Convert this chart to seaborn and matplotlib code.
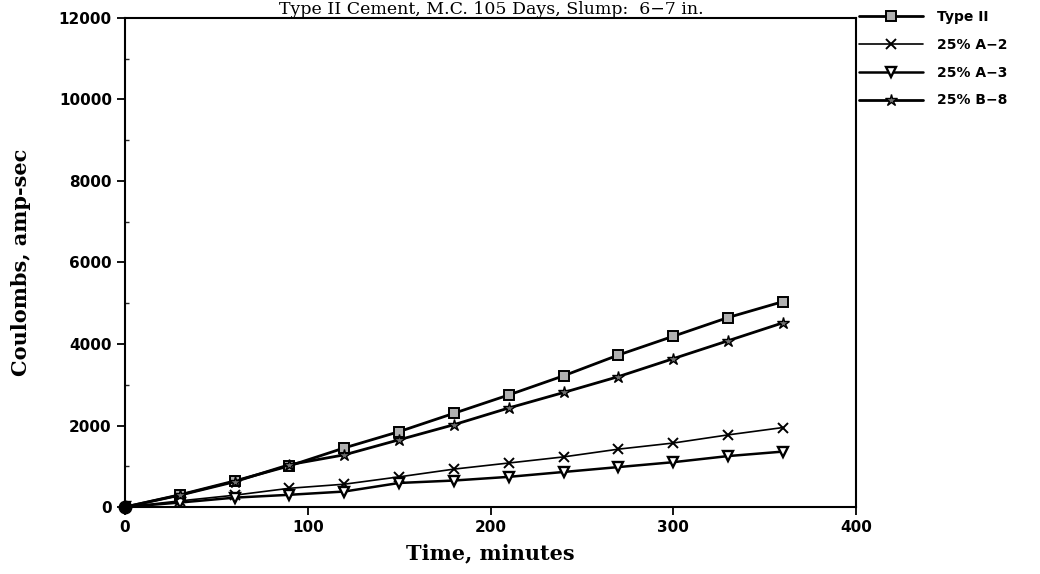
import pandas as pd
import matplotlib.pyplot as plt
import seaborn as sns
from matplotlib.ticker import MultipleLocator

# values
time_min = [0, 30, 60, 90, 120, 150, 180, 210, 240, 270, 300, 330, 360]
type_ii = [0, 300, 640, 1010, 1450, 1850, 2300, 2750, 3220, 3730, 4190, 4650, 5040]
b8 = [0, 290, 620, 1040, 1280, 1650, 2020, 2430, 2810, 3200, 3640, 4080, 4520]
a2 = [0, 150, 290, 460, 560, 740, 930, 1080, 1230, 1420, 1570, 1770, 1950]
a3 = [0, 110, 230, 300, 380, 590, 650, 740, 860, 980, 1100, 1250, 1360]

series_names = ['Type II', '25% A\u22122', '25% A\u22123', '25% B\u22128']
series_vals = [type_ii, a2, a3, b8]

df = pd.DataFrame({'Time': time_min * 4,
                   'Coulombs': sum(series_vals, []),
                   'Mix': sum([[n] * len(time_min) for n in series_names], [])})

sns.set_style("ticks")
plt.rcParams['font.family'] = ['DejaVu Sans']
plt.rcParams['text.color'] = 'black'
plt.rcParams['axes.labelcolor'] = 'black'

fig = plt.figure(figsize=(10.4, 5.74), dpi=100)
ax = fig.add_axes([0.1202, 0.1167, 0.7029, 0.852])

styles = {
    'Type II': dict(marker='s', markersize=6.5, lw=2.0, mfc='#b0b0b0', mec='black', mew=1.4),
    '25% A\u22122': dict(marker='x', markersize=7, lw=1.2, mfc='black', mec='black', mew=1.4),
    '25% A\u22123': dict(marker='v', markersize=6.5, lw=1.8, mfc='white', mec='black', mew=1.7),
    '25% B\u22128': dict(marker='*', markersize=9, lw=2.0, mfc='#707070', mec='black', mew=1.0),
}

for name in series_names:
    st = styles[name]
    sns.lineplot(data=df[df['Mix'] == name], x='Time', y='Coulombs', ax=ax,
                 color='black', label=name, linewidth=st['lw'], marker=st['marker'],
                 markersize=st['markersize'], markerfacecolor=st['mfc'],
                 markeredgecolor=st['mec'], markeredgewidth=st['mew'])

# the common origin point shows as a filled blob
ax.plot([0], [0], 'o', color='black', markersize=9, zorder=5, clip_on=False)

ax.set_xlim(0, 400)
ax.set_ylim(0, 12000)
ax.xaxis.set_major_locator(MultipleLocator(100))
ax.yaxis.set_major_locator(MultipleLocator(2000))
ax.yaxis.set_minor_locator(MultipleLocator(1000))
ax.tick_params(axis='both', which='major', direction='out', length=6, width=1.3,
               labelsize=11, colors='black')
ax.tick_params(axis='y', which='minor', direction='in', length=3, width=1)
for lab in ax.get_xticklabels() + ax.get_yticklabels():
    lab.set_fontweight('bold')
for sp in ax.spines.values():
    sp.set_visible(True)
    sp.set_linewidth(1.5)
    sp.set_color('black')

ax.set_xlabel('Time, minutes', family='DejaVu Serif', fontsize=15,
              fontweight='bold', labelpad=6)
ax.set_ylabel('Coulombs, amp-sec', family='DejaVu Serif', fontsize=15,
              fontweight='bold', labelpad=20)

fig.text(0.472, 1 - 14 / 574, 'Type II Cement, M.C. 105 Days, Slump:  6\u22127 in.',
         family='DejaVu Serif', fontsize=12.5, ha='center', va='baseline')

leg = ax.legend(loc='upper left', bbox_to_anchor=(0.997, 1.028), frameon=False,
                handlelength=4.6, handletextpad=1.0, labelspacing=1.0,
                fontsize=10, borderaxespad=0)
for t in leg.get_texts():
    t.set_fontweight('bold')
    t.set_color('black')

fig.savefig('out.png', dpi=100)
